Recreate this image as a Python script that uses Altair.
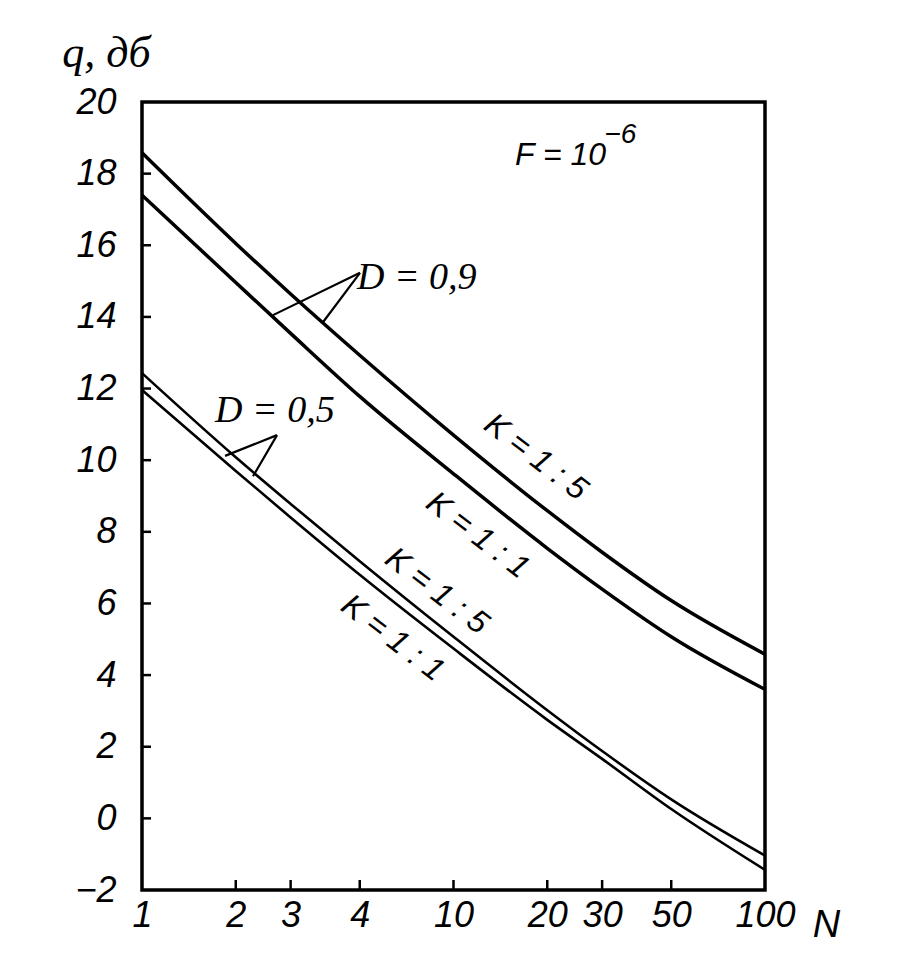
import altair as alt
import pandas as pd

# ---- data ----
N_values = [1, 2, 3, 5, 10, 20, 30, 50, 100]
q_D09_K15 = [18.58, 16.05, 14.64, 12.93, 10.70, 8.59, 7.43, 6.08, 4.58]
q_D09_K11 = [17.4, 14.96, 13.54, 11.78, 9.62, 7.54, 6.40, 5.07, 3.6]
q_D05_K15 = [12.43, 10.08, 8.78, 7.18, 5.07, 3.02, 1.88, 0.53, -1.04]
q_D05_K11 = [11.96, 9.70, 8.40, 6.80, 4.74, 2.75, 1.66, 0.26, -1.44]

x_tick_values = [1, 2, 3, 5, 10, 20, 30, 50, 100]
x_tick_labels = ["1", "2", "3", "4", "10", "20", "30", "50", "100"]
x_inner_ticks = [2, 3, 5, 10, 20, 30, 50]
y_tick_values = [-2, 0, 2, 4, 6, 8, 10, 12, 14, 16, 18, 20]
y_inner_ticks = [0, 2, 4, 6, 8, 10, 12, 14, 16, 18]

# annotation anchor points (N, q)
k_labels = ["K = 1 : 5", "K = 1 : 1", "K = 1 : 5", "K = 1 : 1"]
k_N = [18.4, 11.98, 8.85, 6.39]
k_q = [10.09, 7.91, 6.35, 5.04]

d_labels = ["D = 0,9", "D = 0,5"]
d_N = [4.9, 1.716]
d_q = [14.78, 11.07]

# leader lines: tip (N, q) -> curve point (N2, q2)
lead_N = [5.01, 5.01, 2.713, 2.713]
lead_q = [15.23, 15.23, 10.70, 10.70]
lead_N2 = [2.634, 3.81, 1.848, 2.272]
lead_q2 = [14.05, 13.85, 10.12, 9.55]

f_text = ["F = 10"]
f_N = [15.76]
f_q = [18.24]
f_sup = ["\u22126"]
f_sup_N = [30.5]
f_sup_q = [18.85]

# ---- tables ----
rows = []
for name, vals in [("D09_K15", q_D09_K15), ("D09_K11", q_D09_K11),
                   ("D05_K15", q_D05_K15), ("D05_K11", q_D05_K11)]:
    for n, q in zip(N_values, vals):
        rows.append({"series": name, "N": n, "q": q})
curves = pd.DataFrame(rows)
upper = curves[curves.series.str.startswith("D09")]
lower = curves[curves.series.str.startswith("D05")]

W, H = 623, 788

label_expr = " : ".join(
    f"datum.value == {v} ? '{l}'" for v, l in zip(x_tick_values, x_tick_labels)
) + " : ''"

xscale = alt.Scale(type="log", domain=[1, 100], nice=False)
yscale = alt.Scale(domain=[-2, 20], nice=False, zero=False)

xenc = alt.X("N:Q", scale=xscale, axis=alt.Axis(
    values=x_tick_values, labelExpr=label_expr, title="N",
    grid=False, ticks=False, domain=False,
    labelFont="Liberation Sans", labelFontStyle="italic", labelFontSize=36,
    labelColor="black", labelPadding=8, labelFlush=False, labelOverlap=False,
    titleFont="Liberation Sans", titleFontStyle="italic", titleFontSize=38,
    titleFontWeight="normal", titleColor="black",
    titleX=684, titleY=46, titleAlign="center", titleBaseline="alphabetic"))
yenc = alt.Y("q:Q", scale=yscale, axis=alt.Axis(
    values=y_tick_values, title="q, дб", grid=False, ticks=False, domain=False,
    labelFont="Liberation Sans", labelFontStyle="italic", labelFontSize=36,
    labelColor="black", labelPadding=26, labelFlush=False, labelOverlap=False,
    titleFont="Liberation Serif", titleFontStyle="italic", titleFontSize=44,
    titleFontWeight="normal", titleColor="black", titleAngle=0,
    titleX=-36, titleY=-36, titleAlign="center", titleBaseline="alphabetic"))

line_up = alt.Chart(upper).mark_line(color="black", strokeWidth=3.5, interpolate="monotone").encode(
    x=xenc, y=yenc, detail="series:N")
line_lo = alt.Chart(lower).mark_line(color="black", strokeWidth=2.6, interpolate="monotone").encode(
    x="N:Q", y="q:Q", detail="series:N")

xt = pd.DataFrame({"N": x_inner_ticks})
xticks = alt.Chart(xt).mark_rule(color="black", strokeWidth=2.5).encode(
    x="N:Q", y=alt.value(H), y2=alt.value(H - 10))
yt = pd.DataFrame({"q": y_inner_ticks})
yticks = alt.Chart(yt).mark_rule(color="black", strokeWidth=2.5).encode(
    y="q:Q", x=alt.value(0), x2=alt.value(9))

lead = pd.DataFrame({"N": lead_N, "q": lead_q, "N2": lead_N2, "q2": lead_q2})
leaders = alt.Chart(lead).mark_rule(color="black", strokeWidth=2.2).encode(
    x="N:Q", y="q:Q", x2="N2:Q", y2="q2:Q")

kdf = pd.DataFrame({"t": k_labels, "N": k_N, "q": k_q})
ktext = alt.Chart(kdf).mark_text(
    font="Liberation Sans", fontStyle="italic", fontSize=32, angle=37.5,
    align="center", baseline="middle", color="black").encode(
    x="N:Q", y="q:Q", text="t:N")

ddf = pd.DataFrame({"t": d_labels, "N": d_N, "q": d_q})
dtext = alt.Chart(ddf).mark_text(
    font="Liberation Serif", fontStyle="italic", fontSize=38,
    align="left", baseline="alphabetic", color="black").encode(
    x="N:Q", y="q:Q", text="t:N")

fdf = pd.DataFrame({"t": f_text, "N": f_N, "q": f_q})
ftext = alt.Chart(fdf).mark_text(
    font="Liberation Sans", fontStyle="italic", fontSize=32,
    align="left", baseline="alphabetic", color="black").encode(
    x="N:Q", y="q:Q", text="t:N")
fsdf = pd.DataFrame({"t": f_sup, "N": f_sup_N, "q": f_sup_q})
fstext = alt.Chart(fsdf).mark_text(
    font="Liberation Sans", fontStyle="italic", fontSize=28,
    align="left", baseline="alphabetic", color="black").encode(
    x="N:Q", y="q:Q", text="t:N")

chart = alt.layer(line_up, line_lo, xticks, yticks, leaders, ktext, dtext, ftext, fstext).properties(
    width=W, height=H,
    autosize=alt.AutoSizeParams(type="none"),
    padding={"left": 134, "top": 94, "right": 128, "bottom": 82},
).configure(background="white").configure_view(stroke="black", strokeWidth=3.5)

chart.save("out.html", embed_options={"renderer": "svg", "actions": False})
